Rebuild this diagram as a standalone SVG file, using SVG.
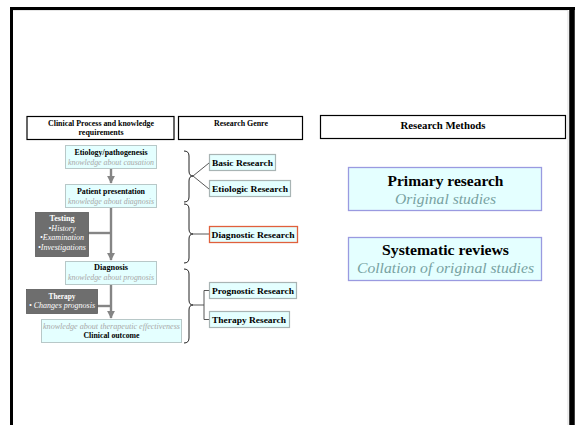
<svg xmlns="http://www.w3.org/2000/svg" width="575" height="425" viewBox="0 0 575 425">
  <style>
    text { font-family: "Liberation Serif", "Times New Roman", serif; }
    .hdr { fill: #ffffff; stroke: #000000; stroke-width: 1.2; }
    .step { fill: #e4ffff; stroke: #b8c8c8; stroke-width: 1; }
    .act { fill: #6e6e6e; stroke: #5a5a5a; stroke-width: 0.8; }
    .genre { fill: #e4ffff; stroke: #a8b4b4; stroke-width: 1.2; }
    .genre-hot { fill: #e4ffff; stroke: #e0603c; stroke-width: 1.3; }
    .method { fill: #e4ffff; stroke: #9a9ae0; stroke-width: 1.3; }
    .b { font-weight: bold; fill: #000000; }
    .k { font-style: italic; fill: #a8a8a8; }
    .w { fill: #ffffff; font-weight: bold; }
    .wi { fill: #ffffff; font-style: italic; }
    .flow { stroke: #858585; stroke-width: 2.4; fill: none; }
    .brace { stroke: #222222; stroke-width: 1; fill: none; }
    .link { stroke: #444444; stroke-width: 0.9; fill: none; }
    .mi { font-style: italic; fill: #78a2a2; }
  </style>
  <defs>
    <marker id="head" viewBox="0 0 10 10" refX="9" refY="5" markerWidth="3.4" markerHeight="3.4" orient="auto" markerUnits="strokeWidth">
      <path d="M0,0 L10,5 L0,10 Z" fill="#858585"/>
    </marker>
  </defs>

  <!-- page frame -->
  <g id="frame">
    <rect x="13" y="10" width="555" height="420" fill="#ffffff"/>
    <line x1="568" y1="11" x2="568" y2="425" stroke="#dddddd" stroke-width="1"/>
    <line x1="13" y1="10.5" x2="568" y2="10.5" stroke="#e6e6e6" stroke-width="1"/>
    <path d="M11.5,425 L11.5,8.5 L575,8.5" fill="none" stroke="#000000" stroke-width="3"/>
    <line x1="572" y1="7" x2="572" y2="425" stroke="#000000" stroke-width="5.5"/>
  </g>

  <!-- column headers -->
  <g id="hdr-process">
    <rect class="hdr" x="27" y="116.5" width="147" height="23"/>
    <text class="b" x="101" y="126" font-size="8" text-anchor="middle" textLength="106" lengthAdjust="spacingAndGlyphs">Clinical Process and knowledge</text>
    <text class="b" x="101" y="135" font-size="8" text-anchor="middle" textLength="45" lengthAdjust="spacingAndGlyphs">requirements</text>
  </g>
  <g id="hdr-genre">
    <rect class="hdr" x="178.5" y="116.5" width="124" height="23"/>
    <text class="b" x="241" y="126" font-size="8" text-anchor="middle" textLength="54" lengthAdjust="spacingAndGlyphs">Research Genre</text>
  </g>
  <g id="hdr-methods">
    <rect class="hdr" x="320.5" y="115.5" width="245" height="23"/>
    <text class="b" x="443" y="129" font-size="10" text-anchor="middle" textLength="85" lengthAdjust="spacingAndGlyphs">Research Methods</text>
  </g>

  <!-- connectors -->
  <g id="connectors">
    <line class="flow" x1="111" y1="169" x2="111" y2="183" marker-end="url(#head)"/>
    <line class="flow" x1="111" y1="208" x2="111" y2="260" marker-end="url(#head)"/>
    <line class="flow" x1="88" y1="233" x2="111" y2="233"/>
    <line class="flow" x1="111" y1="285" x2="111" y2="318" marker-end="url(#head)"/>
    <line class="flow" x1="97" y1="306" x2="111" y2="306"/>

    <path class="brace" d="M184,151 Q189,151 189,156 L189,171 Q189,176 193,176 Q189,176 189,181 L189,197 Q189,202 184,202"/>
    <path class="brace" d="M184,204 Q189,204 189,209 L189,229 Q189,234 193,234 Q189,234 189,239 L189,258 Q189,263 184,263"/>
    <path class="brace" d="M184,269 Q189,269 189,274 L189,300 Q189,305 193,305 Q189,305 189,310 L189,338 Q189,343 184,343"/>

    <line class="link" x1="193" y1="176" x2="209" y2="163"/>
    <line class="link" x1="193" y1="176" x2="209" y2="189"/>
    <line class="link" x1="193" y1="234" x2="209" y2="234"/>
    <path class="link" d="M193,305 L204,305 M209,290.5 L204,290.5 L204,319.5 L209,319.5"/>
  </g>

  <!-- clinical process steps -->
  <g id="n-etiology">
    <rect class="step" x="65.5" y="145.5" width="91" height="23"/>
    <text class="b" x="111" y="155" font-size="8" text-anchor="middle" textLength="73" lengthAdjust="spacingAndGlyphs">Etiology/pathogenesis</text>
    <text class="k" x="111" y="164.5" font-size="8" text-anchor="middle" textLength="86" lengthAdjust="spacingAndGlyphs">knowledge about causation</text>
  </g>
  <g id="n-presentation">
    <rect class="step" x="65.5" y="184.5" width="91" height="23"/>
    <text class="b" x="111" y="194" font-size="8" text-anchor="middle" textLength="68" lengthAdjust="spacingAndGlyphs">Patient presentation</text>
    <text class="k" x="111" y="203.5" font-size="8" text-anchor="middle" textLength="86" lengthAdjust="spacingAndGlyphs">knowledge about diagnosis</text>
  </g>
  <g id="n-testing">
    <rect class="act" x="35.5" y="212.5" width="53" height="44"/>
    <text class="w" x="62" y="220.5" font-size="8" text-anchor="middle" textLength="25" lengthAdjust="spacingAndGlyphs">Testing</text>
    <text class="wi" x="62" y="230.5" font-size="8" text-anchor="middle" textLength="27" lengthAdjust="spacingAndGlyphs">•History</text>
    <text class="wi" x="62" y="240" font-size="8" text-anchor="middle" textLength="44" lengthAdjust="spacingAndGlyphs">•Examination</text>
    <text class="wi" x="62" y="250" font-size="8" text-anchor="middle" textLength="48" lengthAdjust="spacingAndGlyphs">•Investigations</text>
  </g>
  <g id="n-diagnosis">
    <rect class="step" x="65.5" y="261.5" width="91" height="23"/>
    <text class="b" x="111" y="270" font-size="8" text-anchor="middle" textLength="34" lengthAdjust="spacingAndGlyphs">Diagnosis</text>
    <text class="k" x="111" y="280" font-size="8" text-anchor="middle" textLength="86" lengthAdjust="spacingAndGlyphs">knowledge about prognosis</text>
  </g>
  <g id="n-therapy">
    <rect class="act" x="26.5" y="289.5" width="71" height="24"/>
    <text class="w" x="62" y="298.5" font-size="8" text-anchor="middle" textLength="27" lengthAdjust="spacingAndGlyphs">Therapy</text>
    <text class="wi" x="62" y="308" font-size="8" text-anchor="middle" textLength="66" lengthAdjust="spacingAndGlyphs">• Changes prognosis</text>
  </g>
  <g id="n-outcome">
    <rect class="step" x="41.5" y="319.5" width="140" height="23"/>
    <text class="k" x="111.5" y="328.5" font-size="8" text-anchor="middle" textLength="137" lengthAdjust="spacingAndGlyphs">knowledge about therapeutic effectiveness</text>
    <text class="b" x="111.5" y="338" font-size="8" text-anchor="middle" textLength="56" lengthAdjust="spacingAndGlyphs">Clinical outcome</text>
  </g>

  <!-- research genres -->
  <g id="g-basic">
    <rect class="genre" x="209.5" y="154.5" width="66" height="16"/>
    <text class="b" x="212" y="165.5" font-size="9" textLength="61" lengthAdjust="spacingAndGlyphs">Basic Research</text>
  </g>
  <g id="g-etiologic">
    <rect class="genre" x="209.5" y="180.5" width="81" height="16"/>
    <text class="b" x="212" y="191.5" font-size="9" textLength="76" lengthAdjust="spacingAndGlyphs">Etiologic Research</text>
  </g>
  <g id="g-diagnostic">
    <rect class="genre-hot" x="209.5" y="226.5" width="88" height="16"/>
    <text class="b" x="211.5" y="237.5" font-size="9" textLength="83" lengthAdjust="spacingAndGlyphs">Diagnostic Research</text>
  </g>
  <g id="g-prognostic">
    <rect class="genre" x="209.5" y="282.5" width="87" height="16"/>
    <text class="b" x="212" y="293.5" font-size="9" textLength="82" lengthAdjust="spacingAndGlyphs">Prognostic Research</text>
  </g>
  <g id="g-therapy">
    <rect class="genre" x="209.5" y="311.5" width="80" height="16"/>
    <text class="b" x="212" y="322.5" font-size="9" textLength="74" lengthAdjust="spacingAndGlyphs">Therapy Research</text>
  </g>

  <!-- research methods -->
  <g id="m-primary">
    <rect class="method" x="348.5" y="167.5" width="193" height="43"/>
    <text class="b" x="445.5" y="186" font-size="15" text-anchor="middle" textLength="116" lengthAdjust="spacingAndGlyphs">Primary research</text>
    <text class="mi" x="445.5" y="204" font-size="14" text-anchor="middle" textLength="101" lengthAdjust="spacingAndGlyphs">Original studies</text>
  </g>
  <g id="m-reviews">
    <rect class="method" x="348.5" y="237.5" width="193" height="43"/>
    <text class="b" x="445.5" y="255" font-size="15" text-anchor="middle" textLength="127" lengthAdjust="spacingAndGlyphs">Systematic reviews</text>
    <text class="mi" x="445.5" y="273" font-size="14" text-anchor="middle" textLength="177" lengthAdjust="spacingAndGlyphs">Collation of original studies</text>
  </g>
</svg>
